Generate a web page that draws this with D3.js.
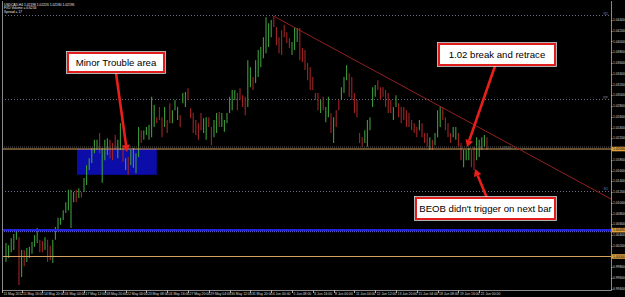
<!doctype html>
<html lang="en">
<head>
<meta charset="utf-8">
<script src="https://cdn.jsdelivr.net/npm/d3@7"></script>
<style>
  html, body { margin: 0; padding: 0; background: #000; }
  svg { display: block; }
  text { font-family: "Liberation Sans", Arial, sans-serif; }
</style>
</head>
<body>
<svg id="chart" width="625" height="297"></svg>
<script>
// USDCAD H4 bars, highs and lows
var highs = [
  1.0025, 1.0021, 1.0034, 1.0042, 1.0049, 1.0036, 1.0012, 1.0012, 1.0016, 1.0018,
  1.0027, 1.0040, 1.0053, 1.0031, 1.0029, 1.0036, 1.0031, 1.0020, 1.0031, 1.0055,
  1.0072, 1.0072, 1.0086, 1.0101, 1.0124, 1.0124, 1.0120, 1.0124, 1.0127, 1.0120,
  1.0146, 1.0170, 1.0183, 1.0202, 1.0217, 1.0217, 1.0230, 1.0202, 1.0217, 1.0220,
  1.0217, 1.0211, 1.0226, 1.0217, 1.0248, 1.0207, 1.0183, 1.0185, 1.0198, 1.0202,
  1.0192, 1.0241, 1.0235, 1.0235, 1.0241, 1.0245, 1.0297, 1.0282, 1.0259, 1.0278,
  1.0259, 1.0278, 1.0254, 1.0285, 1.0272, 1.0291, 1.0278, 1.0263, 1.0304, 1.0306,
  1.0313, 1.0276, 1.0267, 1.0254, 1.0248, 1.0267, 1.0257, 1.0259, 1.0259, 1.0241,
  1.0254, 1.0267, 1.0269, 1.0267, 1.0254, 1.0267, 1.0297, 1.0310, 1.0310, 1.0304,
  1.0313, 1.0300, 1.0297, 1.0365, 1.0352, 1.0334, 1.0365, 1.0384, 1.0390, 1.0408,
  1.0445, 1.0434, 1.0440, 1.0447, 1.0427, 1.0408, 1.0421, 1.0431, 1.0417, 1.0406,
  1.0399, 1.0427, 1.0425, 1.0425, 1.0388, 1.0384, 1.0360, 1.0352, 1.0334, 1.0304,
  1.0304, 1.0291, 1.0297, 1.0278, 1.0297, 1.0267, 1.0259, 1.0272, 1.0291, 1.0315,
  1.0334, 1.0356, 1.0341, 1.0334, 1.0304, 1.0291, 1.0230, 1.0222, 1.0235, 1.0254,
  1.0259, 1.0315, 1.0319, 1.0328, 1.0315, 1.0315, 1.0310, 1.0304, 1.0291, 1.0278,
  1.0300, 1.0285, 1.0278, 1.0278, 1.0272, 1.0267, 1.0254, 1.0248, 1.0241, 1.0254,
  1.0248, 1.0230, 1.0230, 1.0222, 1.0217, 1.0230, 1.0272, 1.0278, 1.0278, 1.0259,
  1.0248, 1.0230, 1.0241, 1.0241, 1.0230, 1.0211, 1.0198, 1.0198, 1.0202, 1.0198,
  1.0204, 1.0222, 1.0217, 1.0222, 1.0226, 1.0222
];
var lows = [
  0.9990, 0.9997, 1.0008, 1.0012, 1.0031, 0.9947, 0.9962, 0.9982, 0.9990, 0.9997,
  1.0005, 1.0018, 1.0025, 1.0008, 1.0008, 1.0012, 0.9990, 0.9993, 0.9988, 1.0031,
  1.0049, 1.0059, 1.0068, 1.0081, 1.0086, 1.0053, 1.0101, 1.0101, 1.0109, 1.0110,
  1.0120, 1.0133, 1.0161, 1.0174, 1.0192, 1.0198, 1.0192, 1.0137, 1.0179, 1.0189,
  1.0183, 1.0179, 1.0198, 1.0183, 1.0198, 1.0176, 1.0161, 1.0152, 1.0170, 1.0165,
  1.0155, 1.0185, 1.0211, 1.0217, 1.0226, 1.0217, 1.0222, 1.0241, 1.0248, 1.0254,
  1.0222, 1.0241, 1.0230, 1.0248, 1.0248, 1.0272, 1.0254, 1.0241, 1.0285, 1.0278,
  1.0291, 1.0257, 1.0230, 1.0226, 1.0217, 1.0235, 1.0230, 1.0217, 1.0241, 1.0207,
  1.0222, 1.0230, 1.0241, 1.0241, 1.0232, 1.0248, 1.0267, 1.0272, 1.0291, 1.0272,
  1.0291, 1.0278, 1.0263, 1.0278, 1.0315, 1.0310, 1.0323, 1.0334, 1.0352, 1.0369,
  1.0378, 1.0390, 1.0408, 1.0427, 1.0393, 1.0378, 1.0375, 1.0408, 1.0397, 1.0388,
  1.0375, 1.0384, 1.0399, 1.0365, 1.0362, 1.0347, 1.0328, 1.0310, 1.0310, 1.0291,
  1.0272, 1.0267, 1.0272, 1.0250, 1.0259, 1.0230, 1.0211, 1.0241, 1.0272, 1.0291,
  1.0304, 1.0328, 1.0297, 1.0291, 1.0267, 1.0259, 1.0211, 1.0204, 1.0211, 1.0204,
  1.0235, 1.0278, 1.0297, 1.0310, 1.0291, 1.0297, 1.0278, 1.0267, 1.0267, 1.0254,
  1.0278, 1.0259, 1.0248, 1.0254, 1.0241, 1.0241, 1.0235, 1.0230, 1.0222, 1.0235,
  1.0222, 1.0211, 1.0204, 1.0198, 1.0198, 1.0207, 1.0222, 1.0241, 1.0254, 1.0235,
  1.0222, 1.0211, 1.0222, 1.0217, 1.0204, 1.0179, 1.0166, 1.0179, 1.0179, 1.0166,
  1.0161, 1.0179, 1.0185, 1.0198, 1.0204, 1.0198
];
// G = bull bar, R = bear bar
var barDirs = (
  "GGGGGRGRGG" + "GGGRRGRRGG" + "GGGGGGGRGR" + "GGGGGGRGGG" + "RRRGGRGRGG" +
  "GGRGGGGGRR" + "RGRRGGGRGG" + "RRRRRRGGRR" + "GGRGGGGGGR" + "RRRGGRGGGG" +
  "GGGRRRRRRR" + "GGGRRRRRRR" + "RGRGGRGRRG" + "GGRRRRRRGG" + "GGGRRRRRRG" +
  "GRRRRRRRRG" + "RRRGRGGGRR" + "RRGGRRGGGR" + "RGGGGR"
).split("");

var priceTicks = [1.0440, 1.0420, 1.0400, 1.0380, 1.0360, 1.0340, 1.0320, 1.0300, 1.0280,
  1.0260, 1.0240, 1.0220, 1.0200, 1.0180, 1.0160, 1.0140, 1.0120, 1.0100, 1.0080,
  1.0060, 1.0040, 1.0020, 1.0000, 0.9980, 0.9960, 0.9940];

var timeLabels = ["11 May 2012", "11 May 16:00", "14 May 20:00", "16 May 04:00", "17 May 12:00",
  "18 May 20:00", "22 May 00:00", "23 May 08:00", "24 May 16:00", "27 May 20:00", "29 May 04:00",
  "30 May 12:00", "31 May 20:00", "4 Jun 00:00", "5 Jun 08:00", "6 Jun 16:00", "8 Jun 00:00",
  "11 Jun 04:00", "12 Jun 12:00", "13 Jun 20:00", "15 Jun 04:00", "18 Jun 08:00",
  "19 Jun 16:00", "21 Jun 00:00"];
var timeLabelBars = [-1.5, 6, 14, 22, 30, 38, 46, 54, 62, 70, 78, 86, 94, 102, 110, 118, 126,
  134, 142, 150, 158, 166, 174, 182];

// horizontal objects
var orangeLevels = [1.0200, 1.0000];
var blueLevel = 1.0049;
var pivotLevels = [1.0449, 1.0293, 1.0122];
var pivotNames = ["R1", "PP", "S1"];
// trendline from the top bar, and the "trouble" rectangle
var trendPts = [[103, 1.0447], [185, 1.0232]];
var boxBars = [27.3, 58], boxPrices = [1.0200, 1.0152];

var infoLines = ["USDCAD,H4  1.02198 1.02226 1.02180 1.02196", "FXD Volume = 0.6234", "Spread = 17"];

var svg = d3.select("#chart");
var L = 2, R = 611, T = 1, B = 290;

var x = d3.scaleLinear().domain([0, 185]).range([6, 487]);
var y = d3.scaleLinear().domain([0.9940, 1.0440]).range([288.75, 20]);

svg.append("rect").attr("width", 625).attr("height", 297).attr("fill", "#000");

svg.append("defs").append("clipPath").attr("id", "plot")
  .append("rect").attr("x", L).attr("y", T).attr("width", R - L).attr("height", B - T);
var plot = svg.append("g").attr("clip-path", "url(#plot)");

// rectangle behind bars
plot.append("rect")
  .attr("x", x(boxBars[0])).attr("width", x(boxBars[1]) - x(boxBars[0]))
  .attr("y", y(boxPrices[0])).attr("height", y(boxPrices[1]) - y(boxPrices[0]))
  .attr("fill", "#0c0ca8");

// pivot dotted lines
plot.selectAll(".piv").data(pivotLevels).join("line")
  .attr("x1", L).attr("x2", R)
  .attr("y1", d => Math.round(y(d)) + 0.5).attr("y2", d => Math.round(y(d)) + 0.5)
  .attr("stroke", "#6a6a86").attr("stroke-dasharray", "1,2");
svg.selectAll(".pivname").data(pivotLevels).join("text")
  .attr("x", R - 3).attr("y", d => y(d) - 0.5).attr("text-anchor", "end")
  .attr("font-size", 3.6).attr("fill", "#7a8aa8")
  .text((d, i) => pivotNames[i]);

// bars
plot.selectAll(".bar").data(highs).join("line")
  .attr("x1", (d, i) => x(i)).attr("x2", (d, i) => x(i))
  .attr("y1", d => y(d)).attr("y2", (d, i) => y(lows[i]))
  .attr("stroke", (d, i) => barDirs[i] === "G" ? "#3c9c3c" : "#a02424")
  .attr("stroke-width", 1.1);

// level lines
plot.append("line").attr("x1", L).attr("x2", R)
  .attr("y1", y(orangeLevels[0]) - 2).attr("y2", y(orangeLevels[0]) - 2)
  .attr("stroke", "#555").attr("stroke-dasharray", "1,1");
plot.selectAll(".olev").data(orangeLevels).join("line")
  .attr("x1", L).attr("x2", R)
  .attr("y1", d => y(d)).attr("y2", d => y(d))
  .attr("stroke", "#d6a060").attr("stroke-width", 1);
plot.append("line").attr("x1", L).attr("x2", R)
  .attr("y1", y(blueLevel)).attr("y2", y(blueLevel))
  .attr("stroke", "#2424e0").attr("stroke-width", 2.4);
plot.append("line").attr("x1", L).attr("x2", R)
  .attr("y1", y(blueLevel) + 1.5).attr("y2", y(blueLevel) + 1.5)
  .attr("stroke", "#6a6ad0").attr("stroke-dasharray", "1,1");

// trendline, extended to the right edge
var slope = (trendPts[1][1] - trendPts[0][1]) / (trendPts[1][0] - trendPts[0][0]);
var endBar = x.invert(R);
plot.append("line")
  .attr("x1", x(trendPts[0][0])).attr("y1", y(trendPts[0][1]))
  .attr("x2", R).attr("y2", y(trendPts[0][1] + slope * (endBar - trendPts[0][0])))
  .attr("stroke", "#942020").attr("stroke-width", 1);

// small description text on the 1.02 line
svg.append("text").attr("x", 496).attr("y", y(orangeLevels[0]) - 0.5)
  .attr("font-size", 3.4).attr("fill", "#777").text("-- 1.02000");

// frame
svg.append("path")
  .attr("d", `M${L + 0.5},${T}V${B + 0.5}H${R + 0.5}V${T}`)
  .attr("fill", "none").attr("stroke", "#8a8a8a");

// price axis
var pa = svg.append("g");
pa.selectAll("line").data(priceTicks).join("line")
  .attr("x1", R).attr("x2", R + 1.5)
  .attr("y1", d => Math.round(y(d)) + 0.5).attr("y2", d => Math.round(y(d)) + 0.5)
  .attr("stroke", "#aaa");
pa.selectAll("text").data(priceTicks).join("text")
  .attr("x", R + 2).attr("y", d => y(d) + 1.2)
  .attr("font-size", 3.3).attr("fill", "#d8d8d8")
  .text(d => d.toFixed(5));

// line price tags
var tags = [[orangeLevels[0], "#e0a040"], [blueLevel, "#e0a040"], [orangeLevels[1], "#e0a040"]];
tags.forEach(function (t) {
  svg.append("rect").attr("x", R + 1).attr("y", y(t[0]) - 2.3)
    .attr("width", 13).attr("height", 4.6).attr("fill", t[1]);
  svg.append("text").attr("x", R + 2).attr("y", y(t[0]) + 1.2)
    .attr("font-size", 3.3).attr("fill", "#000").text(t[0].toFixed(5));
});

// time axis
var ta = svg.append("g");
ta.selectAll("line").data(timeLabelBars).join("line")
  .attr("x1", d => Math.max(L + 0.5, Math.round(x(d)) + 0.5))
  .attr("x2", d => Math.max(L + 0.5, Math.round(x(d)) + 0.5))
  .attr("y1", B).attr("y2", B + 3)
  .attr("stroke", "#aaa");
ta.selectAll("text").data(timeLabelBars).join("text")
  .attr("x", d => Math.max(L + 1.5, x(d) + 1.5)).attr("y", 295)
  .attr("font-size", 3.4).attr("fill", "#d8d8d8")
  .text((d, i) => timeLabels[i]);

// info text top-left
svg.selectAll(".info").data(infoLines).join("text")
  .attr("x", 4).attr("y", (d, i) => 5.5 + i * 3.8)
  .attr("font-size", 3.3).attr("fill", "#e8e8e8")
  .text(d => d);

// callouts
function callout(x0, y0, w, h, label) {
  svg.append("rect").attr("x", x0 - 1.5).attr("y", y0 - 1.5)
    .attr("width", w + 3).attr("height", h + 3)
    .attr("fill", "none").attr("stroke", "#ddd").attr("stroke-width", 0.8);
  svg.append("rect").attr("x", x0).attr("y", y0).attr("width", w).attr("height", h)
    .attr("fill", "#fff").attr("stroke", "#e01c1c").attr("stroke-width", 2);
  svg.append("text").attr("x", x0 + w / 2).attr("y", y0 + h / 2 + 3.4)
    .attr("text-anchor", "middle").attr("font-size", 9.6).attr("fill", "#000")
    .text(label);
}
function arrow(x1, y1, x2, y2) {
  var a = Math.atan2(y2 - y1, x2 - x1), hl = 7, hw = 4;
  var bx = x2 - hl * Math.cos(a), by = y2 - hl * Math.sin(a);
  svg.append("line").attr("x1", x1).attr("y1", y1).attr("x2", bx).attr("y2", by)
    .attr("stroke", "#e8201c").attr("stroke-width", 2.6);
  svg.append("path")
    .attr("d", `M${x2},${y2}L${bx + hw * Math.sin(a)},${by - hw * Math.cos(a)}L${bx - hw * Math.sin(a)},${by + hw * Math.cos(a)}Z`)
    .attr("fill", "#e8201c");
}

arrow(116, 73, 127, 152);
arrow(495, 66, 467, 147);
arrow(487, 198, 475, 169);
callout(68, 53, 96, 19, "Minor Trouble area");
callout(439, 44, 116, 21, "1.02 break and retrace");
callout(416, 198, 139, 21, "BEOB didn't trigger on next bar");
</script>
</body>
</html>
